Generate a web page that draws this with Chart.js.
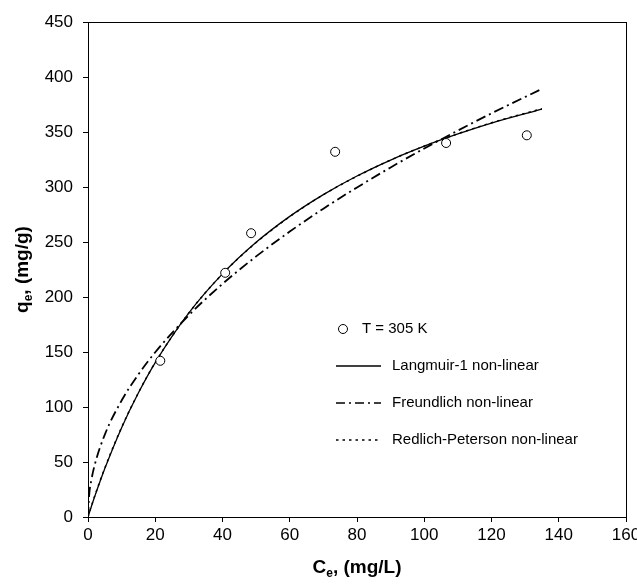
<!DOCTYPE html>
<html>
<head>
<meta charset="utf-8">
<script src="https://cdn.jsdelivr.net/npm/chart.js@4/dist/chart.umd.min.js"></script>
<style>
  html, body { margin: 0; padding: 0; background: #fff; }
  #wrap { width: 637px; height: 587px; position: relative; }
</style>
</head>
<body>
<div id="wrap"><canvas id="c" width="637" height="587"></canvas></div>
<script>
// Experimental data (T = 305 K)
const expC = [21.5, 40.8, 48.5, 73.5, 106.5, 130.5];
const expQ = [142, 222, 258, 332, 340, 347];

// Model curves
const curveC      = [0, 0.3, 1, 2, 5, 10, 15, 20, 30, 40, 50, 60, 70, 80, 90, 100, 110, 120, 135];
const langmuirQ   = [0, 2.9, 9.5, 18.6, 44.0, 81.2, 112.9, 140.4, 185.5, 221.0, 249.7, 273.3, 293.1, 310.0, 324.5, 337.1, 348.2, 358.1, 370.8];
const freundlichQ = [0, 18.3, 33.5, 47.4, 74.9, 105.9, 129.7, 149.8, 183.5, 211.9, 236.9, 259.5, 280.3, 299.6, 317.8, 335.0, 351.3, 367.0, 389.2];
const redlichQ    = [0, 3.0, 9.8, 19.0, 44.5, 81.5, 113.0, 140.5, 185.5, 221.0, 249.5, 273.0, 293.0, 309.8, 324.5, 337.2, 348.4, 358.4, 371.2];

const xTicks = [0, 20, 40, 60, 80, 100, 120, 140, 160];
const yTicks = [0, 50, 100, 150, 200, 250, 300, 350, 400, 450];

const legendLabels = ["T = 305 K", "Langmuir-1 non-linear", "Freundlich non-linear", "Redlich-Peterson non-linear"];

const FONT = "'Liberation Sans', Arial, sans-serif";

function pts(xs, ys) { return xs.map((x, i) => ({ x: x, y: ys[i] })); }

const framePlugin = {
  id: 'frame',
  afterDraw(chart) {
    const ctx = chart.ctx, a = chart.chartArea;
    ctx.save();
    ctx.strokeStyle = '#000';
    ctx.lineWidth = 1;
    ctx.strokeRect(Math.round(a.left) + 0.5, Math.round(a.top) + 0.5, Math.round(a.right - a.left), Math.round(a.bottom - a.top));
    ctx.restore();
  }
};

function drawSubText(ctx, parts, x, y, align) {
  const big = "bold 19px " + FONT, small = "bold 12px " + FONT;
  let total = 0;
  parts.forEach(p => { ctx.font = p[1] ? small : big; total += ctx.measureText(p[0]).width; });
  let cx = align === 'center' ? x - total / 2 : x;
  ctx.textAlign = 'left';
  ctx.textBaseline = 'alphabetic';
  parts.forEach(p => {
    ctx.font = p[1] ? small : big;
    ctx.fillText(p[0], cx, y + (p[1] ? 4 : 0));
    cx += ctx.measureText(p[0]).width;
  });
}

const titlePlugin = {
  id: 'titles',
  afterDraw(chart) {
    const ctx = chart.ctx, a = chart.chartArea;
    ctx.save();
    ctx.fillStyle = '#000';
    drawSubText(ctx, [["C", false], ["e", true], [", (mg/L)", false]], (a.left + a.right) / 2, 573, 'center');
    ctx.translate(28, (a.top + a.bottom) / 2);
    ctx.rotate(-Math.PI / 2);
    drawSubText(ctx, [["q", false], ["e", true], [", (mg/g)", false]], 0, 0, 'center');
    ctx.restore();
  }
};

const legendPlugin = {
  id: 'customLegend',
  afterDraw(chart) {
    const ctx = chart.ctx;
    ctx.save();
    ctx.font = "15px " + FONT;
    ctx.fillStyle = '#000';
    ctx.textBaseline = 'middle';
    ctx.textAlign = 'left';
    const textX = 392, lx1 = 336, lx2 = 381;
    const ys = [329, 366, 403, 440];
    ctx.beginPath();
    ctx.arc(343, ys[0], 4.5, 0, Math.PI * 2);
    ctx.fillStyle = '#fff'; ctx.fill();
    ctx.strokeStyle = '#000'; ctx.lineWidth = 1; ctx.stroke();
    ctx.fillStyle = '#000';
    ctx.fillText(legendLabels[0], 362, ys[0]);
    const dashes = [[], [9, 4, 2, 4], [2.5, 4]];
    for (let i = 0; i < 3; i++) {
      ctx.beginPath();
      ctx.setLineDash(dashes[i]);
      ctx.lineWidth = 1.3;
      ctx.moveTo(lx1, ys[i + 1]); ctx.lineTo(lx2, ys[i + 1]);
      ctx.stroke();
      ctx.setLineDash([]);
      ctx.fillText(legendLabels[i + 1], textX, ys[i + 1]);
    }
    ctx.restore();
  }
};

new Chart(document.getElementById('c'), {
  type: 'scatter',
  data: {
    datasets: [
      { label: legendLabels[3], type: 'line', data: pts(curveC, redlichQ), borderColor: '#000', borderWidth: 1.5, borderDash: [2.5, 4], pointRadius: 0, fill: false, cubicInterpolationMode: 'monotone', order: 3 },
      { label: legendLabels[2], type: 'line', data: pts(curveC, freundlichQ), borderColor: '#000', borderWidth: 1.8, borderDash: [10, 4, 2, 4], pointRadius: 0, fill: false, cubicInterpolationMode: 'monotone', order: 2 },
      { label: legendLabels[1], type: 'line', data: pts(curveC, langmuirQ), borderColor: '#000', borderWidth: 1.3, pointRadius: 0, fill: false, cubicInterpolationMode: 'monotone', order: 1 },
      { label: legendLabels[0], data: pts(expC, expQ), pointStyle: 'circle', pointRadius: 4.5, pointBackgroundColor: '#fff', pointBorderColor: '#000', pointBorderWidth: 1, showLine: false, order: 0 }
    ]
  },
  options: {
    responsive: false,
    animation: false,
    devicePixelRatio: 1,
    layout: { padding: { left: 0, top: 22, right: 11, bottom: 0 } },
    plugins: { legend: { display: false }, tooltip: { enabled: false }, title: { display: false } },
    scales: {
      x: {
        type: 'linear', min: 0, max: 160,
        afterFit(s) { s.height = 70; s.paddingLeft = 0; s.paddingRight = 0; },
        afterBuildTicks(s) { s.ticks = xTicks.map(v => ({ value: v })); },
        grid: { display: true, drawOnChartArea: false, drawTicks: true, tickLength: 5, color: '#000' },
        border: { display: true, color: '#000', width: 1 },
        ticks: { color: '#000', font: { family: FONT, size: 17 }, padding: 3, maxRotation: 0 }
      },
      y: {
        type: 'linear', min: 0, max: 450,
        afterFit(s) { s.width = 88; },
        afterBuildTicks(s) { s.ticks = yTicks.map(v => ({ value: v })); },
        grid: { display: true, drawOnChartArea: false, drawTicks: true, tickLength: 5, color: '#000' },
        border: { display: true, color: '#000', width: 1 },
        ticks: { color: '#000', font: { family: FONT, size: 17 }, padding: 10 }
      }
    }
  },
  plugins: [framePlugin, titlePlugin, legendPlugin]
});
</script>
</body>
</html>
